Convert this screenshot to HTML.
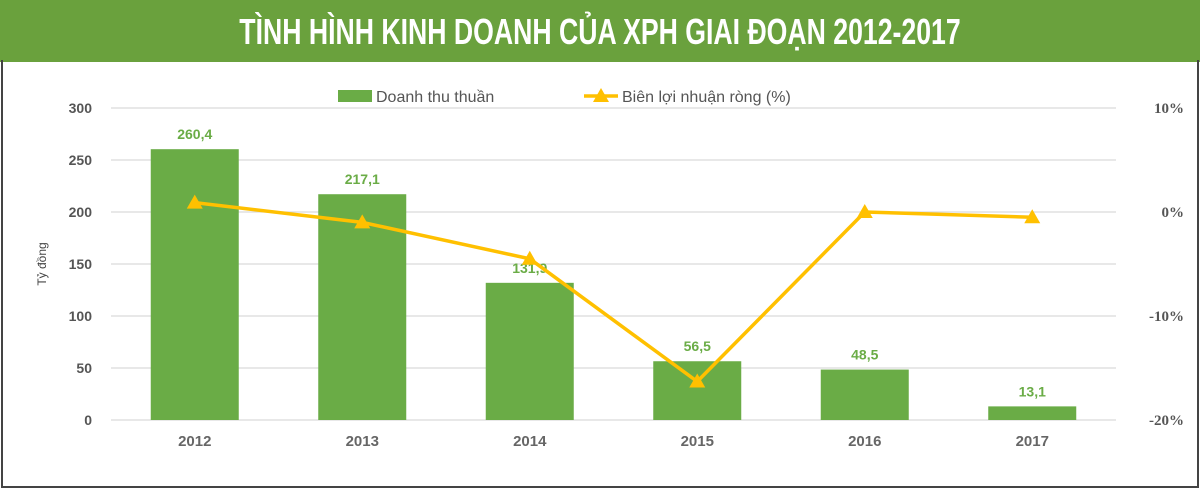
<!DOCTYPE html>
<html><head><meta charset="utf-8"><style>
body{margin:0;width:1200px;height:491px;background:#fff;overflow:hidden;font-family:"Liberation Sans",sans-serif}
#title{position:absolute;left:0;top:0;width:1200px;height:62px;background:#6aa13d}
#title span{position:absolute;left:600px;top:11px;white-space:nowrap;color:#fff;font:bold 36px "Liberation Sans Narrow","Liberation Sans",sans-serif;transform:translateX(-50%) scaleX(0.74);transform-origin:center}
#frame{position:absolute;left:1px;top:60px;width:1194px;height:426px;border:2px solid #444;border-top:none}
svg{position:absolute;left:0;top:0}
</style></head><body>
<div id="title"><span>TÌNH HÌNH KINH DOANH CỦA XPH GIAI ĐOẠN 2012-2017</span></div>
<div id="frame"></div>
<svg id="chart" width="1200" height="491"></svg>
<script>
const categories=["2012","2013","2014","2015","2016","2017"];
const revenue=[260.4,217.1,131.9,56.5,48.5,13.1];
const revenueLabels=["260,4","217,1","131,9","56,5","48,5","13,1"];
const margin=[0.9,-1,-4.5,-16.3,0,-0.5];
const leftTicks=[0,50,100,150,200,250,300];
const rightTicks=[10,0,-10,-20];
const rightTickLabels=["10%","0%","-10%","-20%"];
const NS="http://www.w3.org/2000/svg";
const svg=document.getElementById('chart');
const x0=111,x1=1116,y0=420,y1=108;
const band=(x1-x0)/categories.length;
const xc=i=>x0+band*(i+0.5);
const yL=v=>y0-(v/300)*(y0-y1);
const yR=v=>y0-((v+20)/30)*(y0-y1);
function el(t,a,txt){const e=document.createElementNS(NS,t);for(const k in a)e.setAttribute(k,a[k]);if(txt!==undefined)e.textContent=txt;svg.appendChild(e);return e;}
leftTicks.forEach(v=>{
 const g=el('line',{x1:x0,x2:x1,y1:yL(v),y2:yL(v),stroke:'#d9d9d9','stroke-width':1.3});
 
 
 const t=el('text',{x:92,y:yL(v)+5,'text-anchor':'end','font-size':14,'font-weight':'bold',fill:'#555','font-family':'Liberation Sans'},v);
 
 
});
rightTicks.forEach((v,i)=>{
 const t=el('text',{x:1184,y:yR(v)+5,'text-anchor':'end','font-size':15,'font-weight':'bold',fill:'#555','font-family':'Liberation Serif'},rightTickLabels[i]);
 
 
});
const yt=el('text',{x:0,y:0,transform:'translate(46,264) rotate(-90)','text-anchor':'middle','font-size':12,fill:'#444','font-family':'Liberation Sans Narrow, Liberation Sans'},'Tỷ đồng');


revenue.forEach((v,i)=>{
 const b=el('rect',{x:xc(i)-44,y:yL(v),width:88,height:y0-yL(v),fill:'#6aac46'});
 
 
 const l=el('text',{x:xc(i),y:yL(v)-10,'text-anchor':'middle','font-size':14,'font-weight':'bold',fill:'#6aac46'},revenueLabels[i]);
 
 
 const c=el('text',{x:xc(i),y:446,'text-anchor':'middle','font-size':15,'font-weight':'bold',fill:'#666'},categories[i]);
 
 
});
const pl=el('polyline',{points:margin.map((v,i)=>xc(i)+','+yR(v)).join(' '),fill:'none',stroke:'#ffc000','stroke-width':3.5});


margin.forEach((v,i)=>{
 const x=xc(i),y=yR(v);
 const m=el('polygon',{points:`${x},${y-8} ${x-8},${y+6} ${x+8},${y+6}`,fill:'#ffc000'});
 
 
});
const lr=el('rect',{x:338,y:90,width:34,height:12,fill:'#6aac46'});


const lt=el('text',{x:376,y:102,'font-size':16,fill:'#555'},'Doanh thu thuần');


const ll=el('line',{x1:584,x2:618,y1:96,y2:96,stroke:'#ffc000','stroke-width':3.5});


const lm=el('polygon',{points:'601,88 593,102 609,102',fill:'#ffc000'});


const lt2=el('text',{x:622,y:102,'font-size':16,fill:'#555'},'Biên lợi nhuận ròng (%)');


</script>
</body></html>
